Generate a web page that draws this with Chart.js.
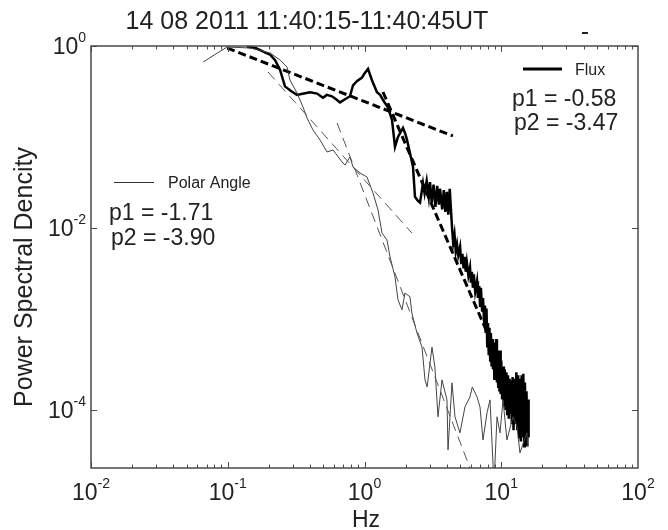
<!DOCTYPE html>
<html>
<head>
<meta charset="utf-8">
<script src="https://cdn.jsdelivr.net/npm/chart.js@4"></script>
<style>
  html, body { margin: 0; padding: 0; background: #fff; }
  canvas { display: block; }
</style>
</head>
<body>
<canvas id="chart" width="668" height="530"></canvas>
<script>
const titleText = '14 08 2011 11:40:15-11:40:45UT';
const xTitle = 'Hz';
const yTitle = 'Power Spectral Dencity';
const xTickPowers = [-2, -1, 0, 1, 2];
const yTickPowers = [0, -2, -4];

// Flux spectrum (thick black)
const fluxFreq = [0.138, 0.16, 0.187, 0.205, 0.222, 0.241, 0.262, 0.29, 0.321, 0.36, 0.40, 0.45, 0.497, 0.53, 0.578, 0.62, 0.662, 0.72, 0.783, 0.824, 0.88, 0.959, 1.0, 1.061, 1.134, 1.234, 1.30, 1.366, 1.485, 1.589, 1.671, 1.72, 1.758, 1.912, 1.98, 2.046, 2.263, 2.34, 2.45, 2.546, 2.678, 2.75, 2.85, 2.95, 3.013, 3.1, 3.2, 3.3, 3.4, 3.5, 3.565, 3.7, 3.8, 3.9, 4.0, 4.1, 4.2,
    4.363, 4.45, 4.55, 4.65, 4.748, 4.85, 5.0, 5.1, 5.2, 5.3, 5.4, 5.5, 5.6, 5.75, 5.908, 6.0, 6.1, 6.2, 6.3, 6.45, 6.648, 6.75, 6.9, 7.0, 7.1, 7.25, 7.355, 7.5, 7.6, 7.7, 7.8, 7.9, 8.0, 8.1, 8.2, 8.3, 8.4, 8.5, 8.6, 8.7, 8.8, 8.9, 9.0, 9.1, 9.2, 9.3, 9.4, 9.5, 9.6, 9.7, 9.8, 9.9, 10.0, 10.15, 10.3, 10.45, 10.6, 10.75, 10.9, 11.05, 11.2, 11.35, 11.5, 11.65, 11.8, 11.95, 12.1, 12.3, 12.5, 12.7, 12.9, 13.1, 13.3, 13.5, 13.7, 13.9, 14.1, 14.3, 14.5, 14.7, 14.9, 15.1, 15.3, 15.5, 15.7, 15.85];
const fluxPower = [0.98, 0.95, 0.85, 0.80, 0.70, 0.55, 0.36, 0.32, 0.29, 0.30, 0.31, 0.30, 0.27, 0.29, 0.28, 0.26, 0.24, 0.26, 0.28, 0.37, 0.41, 0.45, 0.50, 0.56, 0.42, 0.31, 0.29, 0.255, 0.21, 0.154, 0.078, 0.09, 0.10, 0.126, 0.11, 0.093, 0.047, 0.022, 0.02, 0.019, 0.031, 0.024, 0.033, 0.022, 0.032, 0.019, 0.030, 0.017, 0.029, 0.018, 0.027, 0.016, 0.026, 0.015, 0.025, 0.014, 0.027,
    0.0103, 0.0068, 0.0085, 0.0055, 0.0066, 0.0050, 0.0062, 0.0040, 0.0052, 0.0036, 0.0048, 0.0033, 0.0042, 0.0030, 0.0037, 0.0025, 0.0033, 0.0022, 0.0031, 0.0020, 0.0026, 0.0017, 0.0023, 0.0014, 0.0022, 0.0012, 0.0017, 0.0009, 0.0014, 0.0007, 0.0013, 0.0005, 0.0009, 0.0004, 0.0008, 0.00035, 0.0007, 0.0003, 0.0006, 0.00028, 0.0005, 0.00022, 0.00055, 0.00025, 0.0006, 0.0002, 0.00045, 0.00018, 0.0004, 0.00016, 0.00045, 0.00015, 0.00035, 0.00013, 0.0003, 0.00011, 0.00028, 0.0001, 0.00026, 0.00009, 0.00024, 0.00008, 0.00022, 0.00009, 0.00021, 0.00007, 0.00023, 0.00006, 0.00022, 0.00007, 0.00026, 0.00006, 0.00024, 0.00005, 0.00022, 0.000045, 0.00024, 0.00005, 0.00025, 0.00004, 0.0002, 0.000045, 0.00016, 0.00004, 0.00013, 0.00005];

// Polar angle spectrum (thin grey)
const polarFreq = [0.066, 0.0988, 0.1455, 0.204, 0.241, 0.271, 0.285, 0.321, 0.355, 0.38, 0.42, 0.473, 0.532, 0.589, 0.685, 0.72, 0.783, 0.824, 0.927, 1.043, 1.153, 1.255, 1.343, 1.46, 1.537, 1.671, 1.758, 1.88, 1.977, 2.151, 2.22, 2.42, 2.633, 2.77, 2.87, 3.116, 3.27, 3.447, 3.687, 4.01, 4.08, 4.363, 4.59, 4.99, 5.43, 5.91, 6.14, 6.65, 6.99, 7.355, 7.87, 8.275, 8.85, 9.31, 9.79, 10.3, 11.0, 12.18, 13.04, 13.7, 15.4, 15.69];
const polarPower = [0.667, 0.975, 0.951, 0.838, 0.702, 0.588, 0.423, 0.305, 0.2136, 0.1617, 0.1194, 0.0927, 0.0684, 0.072, 0.0531, 0.0492, 0.0603, 0.0468, 0.0402, 0.0363, 0.0243, 0.0158, 0.0088, 0.00738, 0.0048, 0.0029, 0.00162, 0.00126, 0.00193, 0.00175, 0.00116, 0.0007, 0.00049, 0.000214, 0.000179, 0.00049, 0.000297, 0.000084, 0.000214, 0.000129, 0.0000364, 0.000198, 0.000084, 0.000056, 0.000108, 0.000139, 0.000179, 0.000139, 0.000108, 0.0000468, 0.000093, 0.000129, 0.000015, 0.000084, 0.000056, 0.000129, 0.0000468, 0.000084, 0.000066, 0.0000337, 0.000056, 0.000039];

// power-law fits: [start, end]
const fluxFit1Freq = [0.099, 4.43];
const fluxFit1Power = [0.95, 0.1026];
const fluxFit2Freq = [1.365, 15.7];
const fluxFit2Power = [0.312, 0.000065];
const polarFit1Freq = [0.197, 2.22];
const polarFit1Power = [0.518, 0.0088];
const polarFit2Freq = [0.63, 5.91];
const polarFit2Power = [0.1426, 0.000023];

const fluxLegend = ['Flux', 'p1 = -0.58', 'p2 = -3.47'];
const polarLegend = ['Polar Angle', 'p1 = -1.71', 'p2 = -3.90'];

const FONT = "'Liberation Sans', Arial, sans-serif";
const pts = (xs, ys) => xs.map((x, i) => ({x: x, y: ys[i]}));

const overlay = {
    id: 'overlay',
    afterDraw(chart) {
        const {ctx, chartArea: a, scales: {x, y}} = chart;
        ctx.save();
        // frame
        ctx.strokeStyle = '#4a4a4a';
        ctx.lineWidth = 1.5;
        ctx.strokeRect(a.left, a.top, a.right - a.left, a.bottom - a.top);

        // ticks, pointing inward
        ctx.lineWidth = 1;
        ctx.beginPath();
        for (let d = -2; d <= 1; d++) {
            for (let m = 1; m <= 9; m++) {
                const px = Math.round(x.getPixelForValue(m * Math.pow(10, d))) + 0.5;
                const len = m === 1 ? 6 : 3.5;
                ctx.moveTo(px, a.bottom); ctx.lineTo(px, a.bottom - len);
                ctx.moveTo(px, a.top); ctx.lineTo(px, a.top + len);
            }
        }
        yTickPowers.forEach(p => {
            const py = Math.round(y.getPixelForValue(Math.pow(10, p))) + 0.5;
            ctx.moveTo(a.left, py); ctx.lineTo(a.left + 6, py);
            ctx.moveTo(a.right, py); ctx.lineTo(a.right - 6, py);
        });
        ctx.stroke();

        ctx.fillStyle = '#222';
        ctx.textBaseline = 'alphabetic';
        // x tick labels
        xTickPowers.forEach(p => {
            const px = x.getPixelForValue(Math.pow(10, p));
            const exp = String(p);
            ctx.font = '23px ' + FONT;
            const wb = ctx.measureText('10').width;
            ctx.font = '14px ' + FONT;
            const we = ctx.measureText(exp).width;
            const left = px - (wb + we) / 2;
            ctx.textAlign = 'left';
            ctx.font = '23px ' + FONT;
            ctx.fillText('10', left, a.bottom + 32);
            ctx.font = '14px ' + FONT;
            ctx.fillText(exp, left + wb, a.bottom + 20);
        });
        // y tick labels
        yTickPowers.forEach(p => {
            const py = y.getPixelForValue(Math.pow(10, p));
            const exp = String(p);
            ctx.font = '14px ' + FONT;
            const we = ctx.measureText(exp).width;
            ctx.font = '23px ' + FONT;
            const wb = ctx.measureText('10').width;
            const right = a.left - 5;
            ctx.textAlign = 'left';
            ctx.fillText('10', right - we - wb, py + 8);
            ctx.font = '14px ' + FONT;
            ctx.fillText(exp, right - we, py - 4);
        });

        // title and axis titles
        ctx.textAlign = 'center';
        ctx.font = '25px ' + FONT;
        ctx.fillText(titleText, 307, 29);
        ctx.font = '23px ' + FONT;
        ctx.fillText(xTitle, 366, 527);
        ctx.save();
        ctx.translate(32, 277);
        ctx.rotate(-Math.PI / 2);
        ctx.font = '25px ' + FONT;
        ctx.fillText(yTitle, 0, 0);
        ctx.restore();

        // small mark above the frame
        ctx.fillRect(582, 32, 6, 2);

        // Flux legend
        ctx.strokeStyle = '#000';
        ctx.lineWidth = 3;
        ctx.beginPath();
        ctx.moveTo(523, 69); ctx.lineTo(562, 69);
        ctx.stroke();
        ctx.textAlign = 'left';
        ctx.font = '16px ' + FONT;
        ctx.fillText(fluxLegend[0], 575, 75);
        ctx.font = '23px ' + FONT;
        ctx.fillText(fluxLegend[1], 512, 106);
        ctx.fillText(fluxLegend[2], 514, 130);

        // Polar Angle legend
        ctx.strokeStyle = '#333';
        ctx.lineWidth = 1;
        ctx.beginPath();
        ctx.moveTo(114, 182.5); ctx.lineTo(154, 182.5);
        ctx.stroke();
        ctx.font = '16px ' + FONT;
        ctx.fillText(polarLegend[0], 168, 188);
        ctx.font = '23px ' + FONT;
        ctx.fillText(polarLegend[1], 109, 220);
        ctx.fillText(polarLegend[2], 111, 245);
        ctx.restore();
    }
};

const ctx = document.querySelector('#chart').getContext('2d');
const chart = new Chart(ctx, {
    type: 'scatter',
    data: {
        datasets: [{
            label: 'Polar fit 1',
            data: pts(polarFit1Freq, polarFit1Power),
            borderColor: '#555',
            borderWidth: 1,
            borderDash: [10, 6]
        }, {
            label: 'Polar fit 2',
            data: pts(polarFit2Freq, polarFit2Power),
            borderColor: '#555',
            borderWidth: 1,
            borderDash: [10, 6]
        }, {
            label: 'Polar Angle',
            data: pts(polarFreq, polarPower),
            borderColor: '#444',
            borderWidth: 1
        }, {
            label: 'Flux fit 1',
            data: pts(fluxFit1Freq, fluxFit1Power),
            borderColor: '#000',
            borderWidth: 3,
            borderDash: [8, 4]
        }, {
            label: 'Flux fit 2',
            data: pts(fluxFit2Freq, fluxFit2Power),
            borderColor: '#000',
            borderWidth: 3,
            borderDash: [8, 4]
        }, {
            label: 'Flux',
            data: pts(fluxFreq, fluxPower),
            borderColor: '#000',
            borderWidth: 2.5
        }].map(ds => Object.assign(ds, {showLine: true, pointRadius: 0, fill: false, tension: 0}))
    },
    options: {
        responsive: false,
        maintainAspectRatio: false,
        animation: false,
        layout: {
            padding: {left: 91, right: 30, top: 46, bottom: 62}
        },
        plugins: {
            legend: {display: false},
            tooltip: {enabled: false},
            title: {display: false}
        },
        scales: {
            x: {type: 'logarithmic', min: 0.01, max: 100, display: false},
            y: {type: 'logarithmic', min: 0.000023, max: 1, display: false}
        }
    },
    plugins: [overlay]
});
</script>
</body>
</html>
